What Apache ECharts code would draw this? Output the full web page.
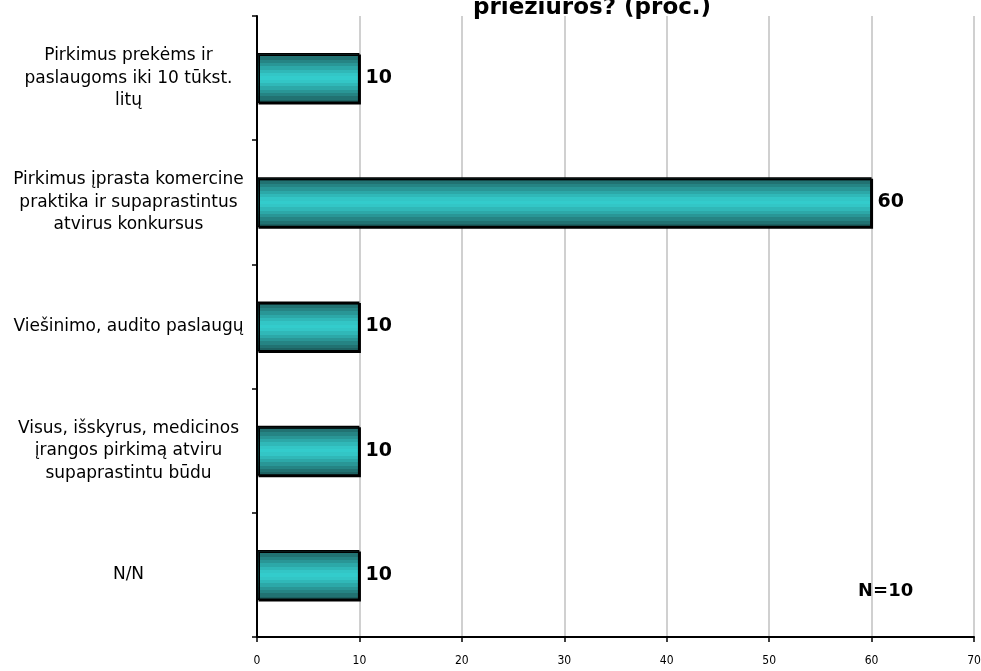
<!DOCTYPE html>
<html><head><meta charset="utf-8">
<script src="https://cdn.jsdelivr.net/npm/echarts@6/dist/echarts.min.js"></script>
<style>html,body{margin:0;padding:0;background:#fff}#c{width:981px;height:671px}</style>
</head><body><div id="c"></div>
<script>
const titleText = 'priežiūros? (proc.)';
const categories = [
  'Pirkimus prekėms ir\npaslaugoms iki 10 tūkst.\nlitų',
  'Pirkimus įprasta komercine\npraktika ir supaprastintus\natvirus konkursus',
  'Viešinimo, audito paslaugų',
  'Visus, išskyrus, medicinos\nįrangos pirkimą atviru\nsupaprastintu būdu',
  'N/N'
];
const values = [10, 60, 10, 10, 10];
const noteText = 'N=10';

const bandColors = ['#1d6262', '#217272', '#258484', '#299696', '#2ca8a8', '#30b8b8', '#33c6c6', '#33cccc'];
const stops = [];
const n = bandColors.length;
for (let i = 0; i < n; i++) {
  const a = i / (2 * n - 1), b = (i + 1) / (2 * n - 1);
  stops.push({offset: a, color: bandColors[i]}, {offset: b, color: bandColors[i]});
}
for (let i = n - 1; i >= 0; i--) {
  const k = 2 * n - 1 - i;
  const a = (k - 1) / (2 * n - 1), b = k / (2 * n - 1);
  stops.push({offset: Math.max(a, 0), color: bandColors[i]}, {offset: b, color: bandColors[i]});
}
const grad = new echarts.graphic.LinearGradient(0, 0, 0, 1, stops);

const chart = echarts.init(document.getElementById('c'), null, {renderer: 'canvas'});
chart.setOption({
  backgroundColor: '#fff',
  animation: false,
  title: {
    text: titleText, left: 587, textAlign: 'center', top: -8,
    textStyle: {fontFamily: 'DejaVu Sans', fontWeight: 'bold', fontSize: 23, color: '#000'}
  },
  grid: {left: 257, right: 7, top: 16, bottom: 34, containLabel: false, outerBoundsMode: 'none'},
  xAxis: {
    type: 'value', min: 0, max: 70, interval: 10,
    axisLine: {show: true, lineStyle: {color: '#000', width: 2}},
    axisTick: {show: true, length: 5, lineStyle: {color: '#000', width: 1.5}},
    axisLabel: {fontFamily: 'DejaVu Sans Condensed', fontSize: 12, color: '#000', margin: 18},
    splitLine: {show: true, lineStyle: {color: '#c0c0c0', width: 1.5}}
  },
  yAxis: {
    type: 'category', data: categories, inverse: true,
    axisLine: {show: true, lineStyle: {color: '#000', width: 2}},
    axisTick: {show: true, length: 5, alignWithLabel: false, lineStyle: {color: '#000', width: 1.5}},
    axisLabel: {fontFamily: 'DejaVu Sans', fontSize: 17, color: '#000', align: 'center', margin: 128.5, lineHeight: 22.5, padding: [5, 0, 0, 0]},
    splitLine: {show: false}
  },
  series: [{
    type: 'bar', data: values, barWidth: 50,
    itemStyle: {color: grad, borderColor: '#000', borderWidth: 1.5,
      shadowColor: '#000', shadowOffsetX: 1.5, shadowOffsetY: 1.5, shadowBlur: 0},
    label: {show: true, position: 'right', distance: 6, fontFamily: 'DejaVu Sans', fontWeight: 'bold', fontSize: 19, color: '#000'}
  }],
  graphic: [{
    type: 'text', left: 858, top: 582,
    style: {text: noteText, fontFamily: 'DejaVu Sans', fontWeight: 'bold', fontSize: 18, fill: '#000'}
  }]
});
</script></body></html>
